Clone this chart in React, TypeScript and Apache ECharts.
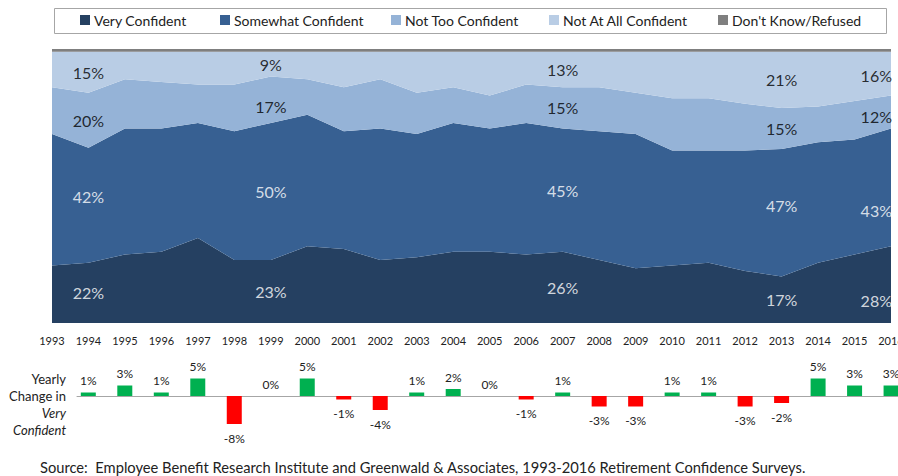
import React, { useEffect, useRef } from "react";
import * as echarts from "echarts";

const years = ["1993","1994","1995","1996","1997","1998","1999","2000","2001","2002","2003","2004","2005","2006","2007","2008","2009","2010","2011","2012","2013","2014","2015","2016"];
const veryConfident = [21,22,25,26,31,23,23,28,27,23,24,26,26,25,26,23,20,21,22,19,17,22,25,28];
const somewhatConfident = [48,42,46,45,42,47,50,48,43,48,45,47,45,48,45,47,49,42,41,44,46.5,44,42,43];
const notTooConfident = [17,20,18,17,14,17,17,13,16,18,15,13,12,14,15,16,15,19,19,17,15,13,14,12];
const notAtAllConfident = [13,15,10,11,12,12,9,10,13,10,15,13,16,12,13,13,15,17,17,19,20.5,20,18,16];
const dontKnow = [1,1,1,1,1,1,1,1,1,1,1,1,1,1,1,1,1,1,1,1,1,1,1,1];
const changeYears = [1994,1995,1996,1997,1998,1999,2000,2001,2002,2003,2004,2005,2006,2007,2008,2009,2010,2011,2012,2013,2014,2015,2016];
const yearlyChange = [1,3,1,5,-8,0,5,-1,-4,1,2,0,-1,1,-3,-3,1,1,-3,-2,5,3,3];
const labelIndices = [1, 6, 14, 20, 23];

const seriesNames = ["Very Confident","Somewhat Confident","Not Too Confident","Not At All Confident","Don't Know/Refused"];
const seriesData = [veryConfident, somewhatConfident, notTooConfident, notAtAllConfident, dontKnow];
const colors = ["#254061","#376092","#95B3D7","#B9CDE5","#7F7F7F"];
const legendLeft = [80, 220, 391, 549, 718];
const labelColors = ["#ffffff","#ffffff","#000000","#000000"];
// vertical nudges of a few labels (series index -> year index -> px), as placed in the original
const labelNudge: Record<string, number> = { "1-1": -9, "2-6": 7, "1-20": -7, "0-23": 16, "1-23": 23, "2-23": 4, "3-23": 2 };

const FONT = "Lato";

export default function App() {
  const ref = useRef<HTMLDivElement>(null);
  useEffect(() => {
    if (!ref.current) return;
    const chart = echarts.init(ref.current, null, { renderer: "svg" });

    const areaSeries: any[] = seriesNames.map((name, k) => ({
      name,
      type: "line",
      stack: "total",
      xAxisIndex: 0,
      yAxisIndex: 0,
      data: seriesData[k],
      symbol: "none",
      lineStyle: { width: 0 },
      areaStyle: { color: colors[k], opacity: 1 },
      itemStyle: { color: colors[k] },
      color: colors[k],
      z: 2,
    }));

    const labelSeries: any[] = [0, 1, 2, 3].map((k) => ({
      name: "lbl" + k,
      type: "scatter",
      xAxisIndex: 0,
      yAxisIndex: 0,
      symbolSize: 1,
      itemStyle: { color: "transparent" },
      z: 5,
      data: labelIndices.map((i) => {
        let base = 0;
        for (let j = 0; j < k; j++) base += seriesData[j][i];
        const v = seriesData[k][i];
        const last = i === years.length - 1;
        return {
          value: [years[i], base + v / 2],
          label: {
            show: true,
            position: "inside",
            align: last ? "right" : "center",
            offset: [last ? 1 : 0, labelNudge[k + "-" + i] || 0],
            formatter: Math.round(v) + "%",
            color: labelColors[k],
            fontSize: 16,
            fontFamily: FONT,
          },
        };
      }),
    }));

    const barSeries = {
      name: "change",
      type: "bar",
      xAxisIndex: 1,
      yAxisIndex: 1,
      barWidth: 15,
      data: changeYears.map((y, i) => ({
        value: [y, yearlyChange[i]],
        itemStyle: { color: yearlyChange[i] >= 0 ? "#00B050" : "#FF0000" },
        label: {
          show: true,
          position: yearlyChange[i] >= 0 ? "top" : "bottom",
          distance: yearlyChange[i] >= 0 ? 6 : 8,
          formatter: yearlyChange[i] + "%",
          fontSize: 12,
          fontFamily: FONT,
          color: "#222",
        },
      })),
    };

    chart.setOption({
      animation: false,
      textStyle: { fontFamily: FONT },
      legend: seriesNames.map((n, k) => ({
        data: [n],
        left: legendLeft[k],
        top: 13,
        icon: "rect",
        itemWidth: 10,
        itemHeight: 10,
        itemGap: 4,
        padding: 0,
        selectedMode: false,
        textStyle: { fontSize: 14, fontFamily: FONT, color: "#222", padding: [0, 0, 0, -1] },
      })),
      grid: [
        { left: 52, right: 7, top: 49, height: 274, outerBoundsMode: "none", containLabel: false },
        { left: 77, right: 0, top: 361, height: 70, outerBoundsMode: "none", containLabel: false },
      ],
      xAxis: [
        {
          type: "category",
          gridIndex: 0,
          data: years,
          boundaryGap: false,
          axisLine: { show: false },
          axisTick: { show: false },
          axisLabel: { interval: 0, margin: 12, fontSize: 11, fontFamily: FONT, color: "#222", hideOverlap: false },
        },
        {
          type: "value",
          gridIndex: 1,
          min: 1993.69,
          max: 2016.19,
          axisLine: { show: true, onZero: true, lineStyle: { color: "#A6A6A6", width: 1 } },
          axisTick: { show: false },
          axisLabel: { show: false },
          splitLine: { show: false },
        },
      ],
      yAxis: [
        { type: "value", gridIndex: 0, min: 0, max: 100, show: false },
        { type: "value", gridIndex: 1, min: -10, max: 10, show: false },
      ],
      series: [...areaSeries, ...labelSeries, barSeries],
      graphic: [
        {
          type: "rect",
          shape: { x: 54.5, y: 8.5, width: 832, height: 25 },
          style: { fill: "none", stroke: "#A6A6A6", lineWidth: 1 },
          silent: true,
        },
        { type: "text", x: 66, y: 379, style: { text: "Yearly", align: "right", verticalAlign: "middle", fontSize: 13, fontFamily: FONT, fill: "#222" } },
        { type: "text", x: 66, y: 396, style: { text: "Change in", align: "right", verticalAlign: "middle", fontSize: 13, fontFamily: FONT, fill: "#222" } },
        { type: "text", x: 66, y: 413, style: { text: "Very", align: "right", verticalAlign: "middle", fontSize: 13, fontStyle: "italic", fontFamily: FONT, fill: "#222" } },
        { type: "text", x: 66, y: 430, style: { text: "Confident", align: "right", verticalAlign: "middle", fontSize: 13, fontStyle: "italic", fontFamily: FONT, fill: "#222" } },
        {
          type: "text",
          x: 40,
          y: 467,
          style: {
            text: "Source:  Employee Benefit Research Institute and Greenwald & Associates, 1993-2016 Retirement Confidence Surveys.",
            align: "left",
            verticalAlign: "middle",
            fontSize: 14.7,
            fontFamily: FONT,
            fill: "#222",
          },
        },
      ],
    });
    return () => chart.dispose();
  }, []);
  return (
    <div
      ref={ref}
      style={{ position: "fixed", left: 0, top: 0, width: 898, height: 476, background: "#fff" }}
    />
  );
}
